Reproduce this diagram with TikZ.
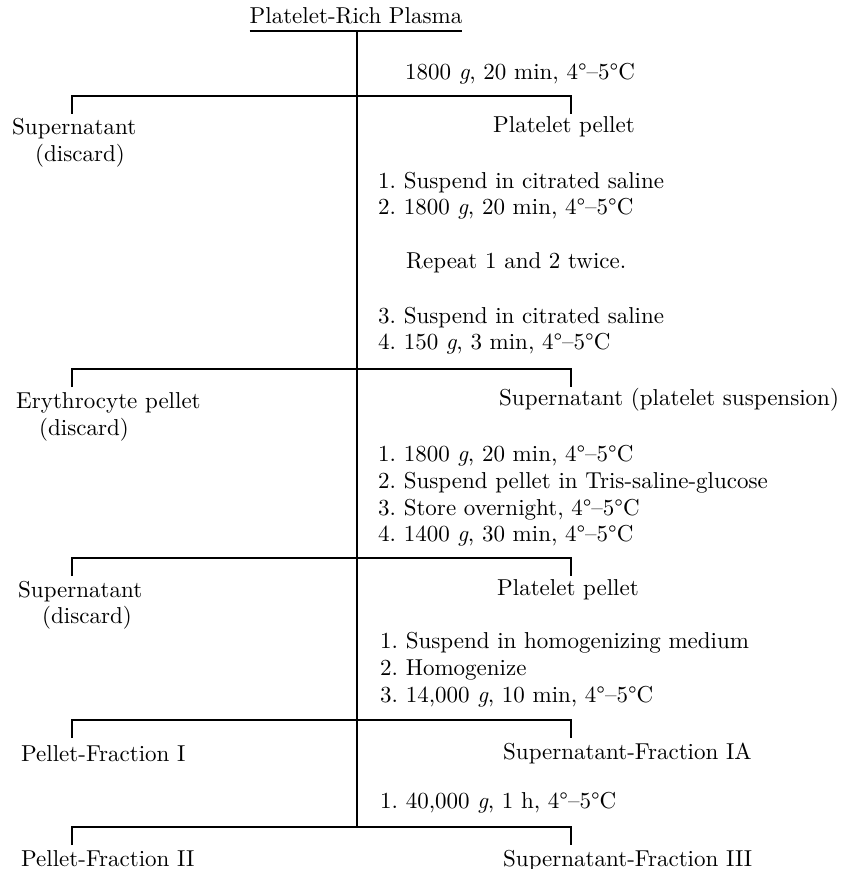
\documentclass[tikz,border=0pt]{standalone}
\usepackage{graphicx}
\newcommand{\txt}[1]{\scalebox{2.3}{\fontsize{10}{12}\selectfont #1}}
\tikzset{
  lbl/.style={inner sep=0pt, anchor=base west},
  rule/.style={line width=1.1pt, black},
}
\newcommand{\dg}{\textdegree}
\newcommand{\temp}{4\dg--5\dg C}
\begin{document}
\begin{tikzpicture}[x=1pt,y=-1pt]
\useasboundingbox (0,0) rectangle (844,869);
% title
\node[lbl, anchor=base] (title) at (356,24) {\txt{Platelet-Rich Plasma}};
\draw[rule] ([yshift=-7pt]title.base west) -- ([yshift=-7pt]title.base east);
\coordinate (top) at (357,31);
\coordinate (bot) at (357,827);
\draw[rule] (top) -- (bot);

% bars
\foreach \i/\y in {1/96, 2/369, 3/558, 4/720, 5/827}{
  \coordinate (bL\i) at (72,\y);
  \coordinate (bR\i) at (571,\y);
  \coordinate (tL\i) at (72,\y+18);
  \coordinate (tR\i) at (571,\y+18);
}
\draw[rule] (tL1) -- (bL1) -- (bR1) -- (tR1);
\draw[rule] (tL2) -- (bL2) -- (bR2) -- (tR2);
\draw[rule] (tL3) -- (bL3) -- (bR3) -- (tR3);
\draw[rule] (tL4) -- (bL4) -- (bR4) -- (tR4);
\draw[rule] (tL5) -- (bL5) -- (bR5) -- (tR5);

% section 1
\node[lbl] (c0) at (405,80) {\txt{1800 \textit{g}, 20 min, \temp}};
\node[lbl] (l1a) at (12,135) {\txt{Supernatant}};
\node[lbl] (l1b) at (35,162) {\txt{(discard)}};
\node[lbl] (r1) at (493,133) {\txt{Platelet pellet}};
\node[lbl] (s1a) at (378,188) {\txt{1.\ Suspend in citrated saline}};
\node[lbl] (s1b) at (378,214) {\txt{2.\ 1800 \textit{g}, 20 min, \temp}};
\node[lbl] (s1r) at (406,268) {\txt{Repeat 1 and 2 twice.}};
\node[lbl] (s1c) at (378,323) {\txt{3.\ Suspend in citrated saline}};
\node[lbl] (s1d) at (378,349) {\txt{4.\ 150 \textit{g}, 3 min, \temp}};

% section 2
\node[lbl] (l2a) at (16,408) {\txt{Erythrocyte pellet}};
\node[lbl] (l2b) at (39,435) {\txt{(discard)}};
\node[lbl] (r2) at (499,405) {\txt{Supernatant (platelet suspension)}};
\node[lbl] (s2a) at (378,461) {\txt{1.\ 1800 \textit{g}, 20 min, \temp}};
\node[lbl] (s2b) at (378,488) {\txt{2.\ Suspend pellet in Tris-saline-glucose}};
\node[lbl] (s2c) at (378,515) {\txt{3.\ Store overnight, \temp}};
\node[lbl] (s2d) at (378,541) {\txt{4.\ 1400 \textit{g}, 30 min, \temp}};

% section 3
\node[lbl] (l3a) at (18,597) {\txt{Supernatant}};
\node[lbl] (l3b) at (42,623) {\txt{(discard)}};
\node[lbl] (r3) at (497,595) {\txt{Platelet pellet}};
\node[lbl] (s3a) at (380,648) {\txt{1.\ Suspend in homogenizing medium}};
\node[lbl] (s3b) at (380,675) {\txt{2.\ Homogenize}};
\node[lbl] (s3c) at (380,702) {\txt{3.\ 14,000 \textit{g}, 10 min, \temp}};

% section 4
\node[lbl] (l4) at (21,761) {\txt{Pellet-Fraction I}};
\node[lbl] (r4) at (503,759) {\txt{Supernatant-Fraction IA}};
\node[lbl] (s4a) at (380,808) {\txt{1.\ 40,000 \textit{g}, 1 h, \temp}};

% section 5
\node[lbl] (l5) at (21,866) {\txt{Pellet-Fraction II}};
\node[lbl] (r5) at (503,866) {\txt{Supernatant-Fraction III}};
\end{tikzpicture}
\end{document}
